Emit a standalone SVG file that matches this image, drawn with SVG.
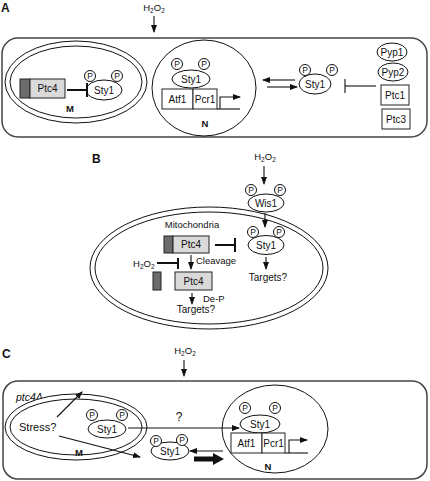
<svg xmlns="http://www.w3.org/2000/svg" width="430" height="481" viewBox="0 0 430 481">
<style>
text{font-family:"Liberation Sans",Arial,sans-serif;fill:#111;}
.t{font-size:10px;text-anchor:middle;}
.s{font-size:9.5px;}
.b{font-weight:bold;}
.lab{font-size:12px;font-weight:bold;}
.p{font-size:8.5px;text-anchor:middle;}
.o{fill:#fff;stroke:#111;stroke-width:1;}
.frame{fill:#fff;stroke:#444;stroke-width:1.5;}
.ln{stroke:#111;stroke-width:1.1;fill:none;}
.ar{stroke:#111;stroke-width:1.1;fill:none;marker-end:url(#ah);}
.inh{stroke:#111;stroke-width:2;fill:none;}
.lt{fill:#dadada;stroke:#222;stroke-width:1;}
.dk{fill:#6c6c6c;stroke:#222;stroke-width:1;}
.bx{fill:#fff;stroke:#222;stroke-width:1;}
</style>
<defs>
<marker id="ah" markerWidth="8" markerHeight="6" refX="7" refY="3" orient="auto" markerUnits="userSpaceOnUse"><path d="M0,0 L8,3 L0,6 z" fill="#111"/></marker>
</defs>

<!-- ===== Panel A ===== -->
<text class="lab" x="1" y="12">A</text>
<g id="A-frame"><rect class="frame" x="2" y="38" width="425" height="99" rx="16"/></g>
<g id="A-h2o2"><text class="s" x="154" y="11" text-anchor="middle">H<tspan font-size="6.5" dy="2">2</tspan><tspan dy="-2">O</tspan><tspan font-size="6.5" dy="2">2</tspan></text></g>
<g id="A-mito">
<ellipse class="o" cx="76" cy="82" rx="71" ry="41"/>
<ellipse class="o" cx="76" cy="82" rx="66" ry="36"/>
<text class="s b" x="70" y="112" text-anchor="middle">M</text>
</g>
<g id="A-ptc4">
<rect class="dk" x="20" y="79" width="10" height="19"/>
<rect class="lt" x="30" y="79" width="35" height="19"/>
<text class="t" x="47.5" y="92">Ptc4</text>
</g>
<g id="A-sty1-m">
<ellipse class="o" cx="104" cy="90" rx="18" ry="10"/>
<text class="t" x="104" y="93.5">Sty1</text>
<circle class="o" cx="90" cy="76" r="5.5"/><text class="p" x="90" y="79">P</text>
<circle class="o" cx="117" cy="76" r="5.5"/><text class="p" x="117" y="79">P</text>
</g>
<g id="A-nucleus">
<ellipse class="o" cx="204" cy="88" rx="52" ry="48"/>
<text class="s b" x="205" y="127" text-anchor="middle">N</text>
</g>
<g id="A-sty1-n">
<ellipse class="o" cx="191" cy="79" rx="19" ry="9"/>
<text class="t" x="191" y="82.5">Sty1</text>
<circle class="o" cx="177" cy="64" r="5.5"/><text class="p" x="177" y="67">P</text>
<circle class="o" cx="204" cy="64" r="5.5"/><text class="p" x="204" y="67">P</text>
</g>
<g id="A-atf1"><rect class="bx" x="162" y="89" width="31" height="20"/><text class="t" x="177.5" y="102.5">Atf1</text></g>
<g id="A-pcr1"><rect class="bx" x="193" y="89" width="24" height="20"/><text class="t" x="205" y="102.5">Pcr1</text></g>
<g id="A-sty1-c">
<ellipse class="o" cx="315" cy="84" rx="16" ry="10"/>
<text class="t" x="315" y="87.5">Sty1</text>
<circle class="o" cx="305" cy="70" r="5.5"/><text class="p" x="305" y="73">P</text>
<circle class="o" cx="332" cy="70" r="5.5"/><text class="p" x="332" y="73">P</text>
</g>
<g id="A-pyp1"><ellipse class="o" cx="392" cy="52" rx="15" ry="9"/><text class="t" x="392" y="55.5">Pyp1</text></g>
<g id="A-pyp2"><ellipse class="o" cx="393" cy="72" rx="15" ry="9"/><text class="t" x="393" y="75.5">Pyp2</text></g>
<g id="A-ptc1"><rect class="bx" x="381" y="85" width="28" height="20"/><text class="t" x="395" y="98.5">Ptc1</text></g>
<g id="A-ptc3"><rect class="bx" x="382" y="109" width="28" height="20"/><text class="t" x="396" y="122.5">Ptc3</text></g>

<!-- ===== Panel B ===== -->
<text class="lab" x="92" y="163">B</text>
<g id="B-h2o2"><text class="s" x="265" y="160" text-anchor="middle">H<tspan font-size="6.5" dy="2">2</tspan><tspan dy="-2">O</tspan><tspan font-size="6.5" dy="2">2</tspan></text></g>
<g id="B-cell">
<ellipse class="o" cx="209" cy="268" rx="119" ry="61"/>
<ellipse class="o" cx="209" cy="268" rx="114" ry="56"/>
</g>
<g id="B-wis1">
<ellipse class="o" cx="266" cy="203" rx="18" ry="9"/>
<text class="t" x="266" y="206.5">Wis1</text>
<circle class="o" cx="251" cy="190" r="5.5"/><text class="p" x="251" y="193">P</text>
<circle class="o" cx="280" cy="190" r="5.5"/><text class="p" x="280" y="193">P</text>
</g>
<g id="B-sty1">
<ellipse class="o" cx="266" cy="245" rx="18" ry="9.5"/>
<text class="t" x="266" y="248.5">Sty1</text>
<circle class="o" cx="253" cy="232" r="5.5"/><text class="p" x="253" y="235">P</text>
<circle class="o" cx="279" cy="232" r="5.5"/><text class="p" x="279" y="235">P</text>
</g>
<g id="B-targets1"><text class="t" x="268" y="281">Targets?</text></g>
<g id="B-mito-label"><text class="s" x="192" y="228" text-anchor="middle">Mitochondria</text></g>
<g id="B-ptc4">
<rect class="dk" x="164" y="236" width="9" height="17"/>
<rect class="lt" x="173" y="236" width="36" height="17"/>
<text class="t" x="191" y="248">Ptc4</text>
</g>
<g id="B-h2o2-2"><text class="s" x="133" y="267">H<tspan font-size="6.5" dy="2">2</tspan><tspan dy="-2">O</tspan><tspan font-size="6.5" dy="2">2</tspan></text></g>
<g id="B-fragment"><rect class="dk" x="153" y="272" width="8" height="18"/></g>
<g id="B-ptc4-cleaved">
<rect class="lt" x="175" y="272" width="37" height="18"/>
<text class="t" x="193.5" y="284.5">Ptc4</text>
</g>
<g id="B-targets2"><text class="t" x="196" y="313">Targets?</text></g>

<!-- ===== Panel C ===== -->
<text class="lab" x="2" y="358">C</text>
<g id="C-h2o2"><text class="s" x="185" y="354" text-anchor="middle">H<tspan font-size="6.5" dy="2">2</tspan><tspan dy="-2">O</tspan><tspan font-size="6.5" dy="2">2</tspan></text></g>
<g id="C-frame"><rect class="frame" x="3" y="381" width="424" height="98" rx="15"/></g>
<g id="C-ptc4d"><text x="16" y="401" font-size="10.5" font-style="italic">ptc4Δ</text></g>
<g id="C-mito">
<ellipse class="o" cx="76" cy="427" rx="71" ry="33"/>
<ellipse class="o" cx="76" cy="427" rx="66" ry="28"/>
<text class="s b" x="79" y="456" text-anchor="middle">M</text>
</g>
<g id="C-stress"><text x="19" y="431" font-size="11">Stress?</text></g>
<g id="C-sty1-m">
<ellipse class="o" cx="107" cy="429" rx="19" ry="9"/>
<text class="t" x="107" y="432.5">Sty1</text>
<circle class="o" cx="92" cy="415" r="5.5"/><text class="p" x="92" y="418">P</text>
<circle class="o" cx="122" cy="415" r="5.5"/><text class="p" x="122" y="418">P</text>
</g>
<g id="C-sty1-c">
<ellipse class="o" cx="170" cy="451" rx="19" ry="9"/>
<text class="t" x="170" y="454.5">Sty1</text>
<circle class="o" cx="156" cy="441" r="5.5"/><text class="p" x="156" y="444">P</text>
<circle class="o" cx="182" cy="440" r="5.5"/><text class="p" x="182" y="443">P</text>
</g>
<g id="C-nucleus">
<ellipse class="o" cx="275" cy="429" rx="53" ry="44"/>
<text class="s b" x="268" y="470" text-anchor="middle">N</text>
</g>
<g id="C-sty1-n">
<ellipse class="o" cx="260" cy="424" rx="20" ry="9"/>
<text class="t" x="260" y="427.5">Sty1</text>
<circle class="o" cx="245" cy="408" r="5.5"/><text class="p" x="245" y="411">P</text>
<circle class="o" cx="275" cy="408" r="5.5"/><text class="p" x="275" y="411">P</text>
</g>
<g id="C-atf1"><rect class="bx" x="231" y="433" width="31" height="20"/><text class="t" x="246.5" y="446.5">Atf1</text></g>
<g id="C-pcr1"><rect class="bx" x="262" y="433" width="23" height="20"/><text class="t" x="273.5" y="446.5">Pcr1</text></g>

<!-- ===== Connectors ===== -->
<g id="connectors">
<line class="ar" x1="154" y1="16" x2="154" y2="32"/>
<line class="inh" x1="67" y1="90" x2="87" y2="90"/><line class="inh" x1="87" y1="83" x2="87" y2="97"/>
<line class="ln" x1="217" y1="109" x2="240" y2="109"/>
<path class="ar" d="M220,109 V97 H240"/>
<line class="ar" x1="295" y1="80" x2="263" y2="80"/>
<line class="ar" x1="267" y1="87" x2="297" y2="87"/>
<line class="ln" x1="376" y1="86" x2="345" y2="86" stroke-width="1.5"/><line class="ln" x1="345" y1="79" x2="345" y2="93" stroke-width="1.5"/>

<line class="ar" x1="264" y1="166" x2="264" y2="184"/>
<line class="ar" x1="265" y1="213" x2="265" y2="227"/>
<line class="ar" x1="266" y1="257" x2="266" y2="269"/>
<line class="inh" x1="215" y1="245" x2="235" y2="245"/><line class="inh" x1="235" y1="238" x2="235" y2="252"/>
<line class="ar" x1="191" y1="255" x2="191" y2="269"/>
<text class="s" x="196" y="264">Cleavage</text>
<line class="inh" x1="157" y1="263" x2="178" y2="263"/><line class="inh" x1="178" y1="258" x2="178" y2="269"/>
<line class="ar" x1="192" y1="293" x2="192" y2="304"/>
<text class="s" x="203" y="302">De-P</text>

<line class="ar" x1="184" y1="360" x2="184" y2="376"/>
<line class="ar" x1="57" y1="417" x2="82" y2="392"/>
<line class="ar" x1="59" y1="436" x2="140" y2="457"/>
<line class="ar" x1="128" y1="428" x2="239" y2="428"/>
<text x="179" y="421" font-size="12" text-anchor="middle">?</text>
<line class="ar" x1="223" y1="451" x2="190" y2="451"/>
<polygon points="194,456.5 213,456.5 213,453 224,459 213,465 213,461.5 194,461.5" fill="#111"/>
<line class="ln" x1="285" y1="453" x2="308" y2="453"/>
<path class="ar" d="M289,453 V440 H307"/>
</g>
</svg>
